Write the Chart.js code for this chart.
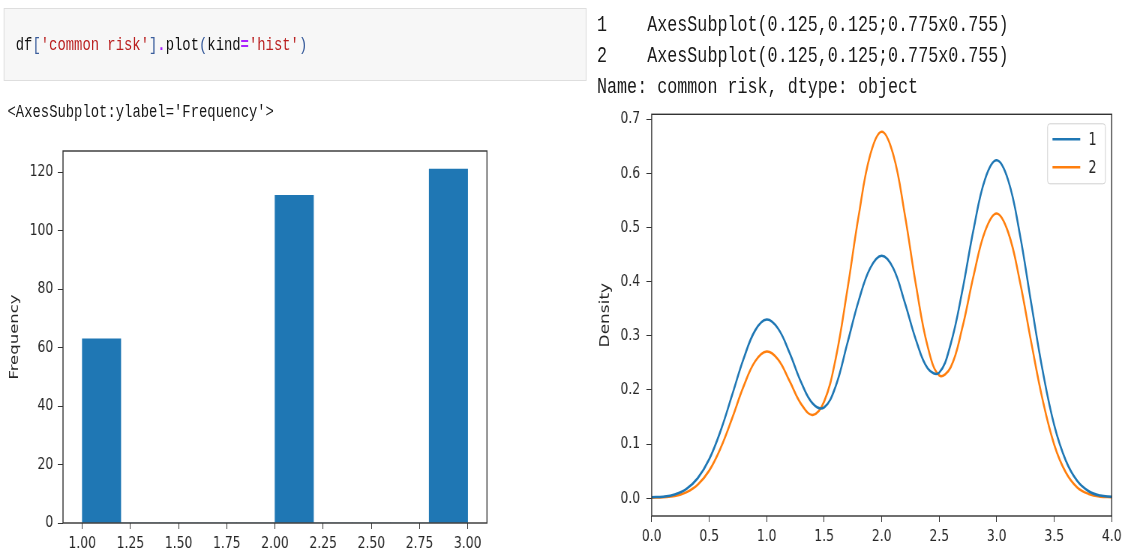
<!DOCTYPE html>
<html>
<head>
<meta charset="utf-8">
<script src="https://cdn.jsdelivr.net/npm/chart.js@4.4.1/dist/chart.umd.min.js"></script>
<style>
  html, body { margin: 0; padding: 0; background: #fff; overflow: hidden; }
  /* the screenshot is squeezed sideways, so lay out wide and squeeze */
  #page {
    position: absolute; left: 0; top: 0;
    width: 1508px; height: 550px;
    transform: scaleX(0.75); transform-origin: 0 0;
  }
  .mono { font-family: 'Liberation Mono', monospace; white-space: pre; position: absolute; line-height: 1; }
  #cell {
    position: absolute; left: 5px; top: 8px; width: 777px; height: 73px;
    background: #f7f7f7; border: 1px solid #dedede; box-sizing: border-box;
  }
  #code { left: 15px; top: 28px; font-size: 18.5px; color: #111; }
  .str { color: #ba2121; }
  .br { color: #3a5d9c; }
  .op { color: #aa22ff; font-weight: bold; }
  #out1 { left: 10px; top: 104px; font-size: 18.5px; color: #1a1a1a; }
  #out2 { left: 796px; top: 10px; font-size: 22.3px; color: #1a1a1a; line-height: 31px; }
  canvas { position: absolute; }
</style>
</head>
<body>
<div id="page">
  <div id="cell"><div id="code" class="mono">df<span class="br">[</span><span class="str">'common risk'</span><span class="br">]</span><span class="op">.</span>plot<span class="br">(</span>kind<span class="op">=</span><span class="str">'hist'</span><span class="br">)</span></div></div>
  <div id="out1" class="mono">&lt;AxesSubplot:ylabel='Frequency'&gt;</div>
  <div id="out2" class="mono">1    AxesSubplot(0.125,0.125;0.775x0.755)
2    AxesSubplot(0.125,0.125;0.775x0.755)
Name: common risk, dtype: object</div>
  <canvas id="histChart" width="787" height="420" style="left:0px; top:130px;"></canvas>
  <canvas id="densityChart" width="721" height="455" style="left:787px; top:95px;"></canvas>
</div>
<script>
  // histogram of 'common risk' (10 bins)
  var histEdges = [1.0, 1.2, 1.4, 1.6, 1.8, 2.0, 2.2, 2.4, 2.6, 2.8, 3.0];
  var histCounts = [63, 0, 0, 0, 0, 112, 0, 0, 0, 121];
  var histXTicks = [1.0, 1.25, 1.5, 1.75, 2.0, 2.25, 2.5, 2.75, 3.0];
  var histYTicks = [0, 20, 40, 60, 80, 100, 120];

  // kde of the two groups
  var seriesLabels = ['1', '2'];
  var densityX = [
    0.0, 0.1, 0.2, 0.3, 0.4, 0.5, 0.6, 0.7, 0.8, 0.9,
    1.0, 1.1, 1.2, 1.3, 1.4, 1.5, 1.6, 1.7, 1.8, 1.9,
    2.0, 2.1, 2.2, 2.3, 2.4, 2.5, 2.6, 2.7, 2.8, 2.9,
    3.0, 3.1, 3.2, 3.3, 3.4, 3.5, 3.6, 3.7, 3.8, 3.9, 4.0
  ];
  var density1 = [
    0.002, 0.003, 0.007, 0.017, 0.037, 0.072, 0.125, 0.191, 0.258, 0.310,
    0.330, 0.313, 0.268, 0.214, 0.175, 0.168, 0.207, 0.285, 0.365, 0.425,
    0.448, 0.425, 0.362, 0.291, 0.240, 0.232, 0.285, 0.382, 0.498, 0.590,
    0.624, 0.587, 0.489, 0.360, 0.235, 0.135, 0.070, 0.032, 0.013, 0.005, 0.003
  ];
  var density2 = [
    0.001, 0.002, 0.004, 0.011, 0.025, 0.051, 0.093, 0.148, 0.207, 0.253,
    0.271, 0.256, 0.216, 0.174, 0.154, 0.179, 0.258, 0.383, 0.522, 0.634,
    0.677, 0.635, 0.525, 0.391, 0.280, 0.227, 0.242, 0.314, 0.412, 0.494,
    0.526, 0.491, 0.402, 0.288, 0.181, 0.099, 0.048, 0.020, 0.008, 0.003, 0.002
  ];
  var densityXTicks = [0, 0.5, 1.0, 1.5, 2.0, 2.5, 3.0, 3.5, 4.0];
  var densityYTicks = [0, 0.1, 0.2, 0.3, 0.4, 0.5, 0.6, 0.7];

  var mplBlue = '#1f77b4';
  var mplOrange = '#ff7f0e';
  var inkColor = '#262626';
  var tickFont = { family: 'DejaVu Sans', size: 16.5 };

  // matplotlib draws a box round the axes
  var framePlugin = {
    id: 'frame',
    afterDatasetsDraw: function (chart) {
      var a = chart.chartArea, ctx = chart.ctx;
      ctx.save();
      ctx.strokeStyle = '#333';
      ctx.lineWidth = 1.4;
      ctx.strokeRect(a.left, a.top, a.right - a.left, a.bottom - a.top);
      ctx.restore();
    }
  };

  // legend box in the upper right corner of the plot
  var cornerLegend = {
    id: 'cornerLegend',
    afterDraw: function (chart) {
      var a = chart.chartArea, ctx = chart.ctx;
      var w = 77, h = 60;
      var left = a.right - 9 - w, top = a.top + 9;
      ctx.save();
      ctx.fillStyle = 'rgba(255,255,255,0.85)';
      ctx.strokeStyle = '#d0d0d0';
      ctx.lineWidth = 1;
      ctx.beginPath();
      ctx.roundRect(left + 0.5, top + 0.5, w, h, 3);
      ctx.fill();
      ctx.stroke();
      ctx.font = '17px "DejaVu Sans"';
      ctx.textBaseline = 'middle';
      chart.data.datasets.forEach(function (ds, i) {
        var y = top + 16 + i * 28;
        ctx.strokeStyle = ds.borderColor;
        ctx.lineWidth = 2.5;
        ctx.beginPath();
        ctx.moveTo(left + 7, y);
        ctx.lineTo(left + 44, y);
        ctx.stroke();
        ctx.fillStyle = inkColor;
        ctx.fillText(ds.label, left + 55, y + 1);
      });
      ctx.restore();
    }
  };

  function fixedTicks(values) {
    return function (scale) {
      scale.ticks = values.map(function (v) { return { value: v }; });
    };
  }

  var histPoints = histCounts.map(function (c, i) {
    return { x: (histEdges[i] + histEdges[i + 1]) / 2, y: c };
  });

  new Chart(document.getElementById('histChart'), {
    type: 'bar',
    data: {
      datasets: [{
        label: 'common risk',
        data: histPoints,
        backgroundColor: mplBlue,
        borderWidth: 0,
        barPercentage: 1,
        categoryPercentage: 1
      }]
    },
    options: {
      responsive: false,
      animation: false,
      layout: { padding: { left: 0, top: 21, right: 137.7, bottom: 0 } },
      plugins: { legend: { display: false }, tooltip: { enabled: false } },
      scales: {
        x: {
          type: 'linear',
          offset: false,
          min: 0.9,
          max: 3.1,
          afterBuildTicks: fixedTicks(histXTicks),
          afterFit: function (s) { s.height = 27; },
          border: { display: false },
          grid: { offset: false, drawOnChartArea: false, tickLength: 6, color: '#333' },
          ticks: {
            autoSkip: false, maxRotation: 0, padding: 5, color: inkColor, font: tickFont,
            callback: function (v) { return Number(v).toFixed(2); }
          }
        },
        y: {
          min: 0,
          max: 127.2,
          afterBuildTicks: fixedTicks(histYTicks),
          afterFit: function (s) { s.width = 84; },
          border: { display: false },
          grid: { drawOnChartArea: false, tickLength: 7, color: '#333' },
          ticks: { padding: 6, color: inkColor, font: tickFont },
          title: {
            display: true, text: 'Frequency', color: inkColor,
            font: { family: 'DejaVu Sans', size: 16.5 }, padding: { top: 10, bottom: 0 }
          }
        }
      }
    },
    plugins: [framePlugin]
  });

  function toPoints(values) {
    return values.map(function (v, i) { return { x: densityX[i], y: v }; });
  }

  new Chart(document.getElementById('densityChart'), {
    type: 'line',
    data: {
      datasets: [
        {
          label: seriesLabels[0],
          data: toPoints(density1),
          borderColor: mplBlue,
          borderWidth: 2.5,
          pointRadius: 0,
          fill: false,
          tension: 0.4
        },
        {
          label: seriesLabels[1],
          data: toPoints(density2),
          borderColor: mplOrange,
          borderWidth: 2.5,
          pointRadius: 0,
          fill: false,
          tension: 0.4
        }
      ]
    },
    options: {
      responsive: false,
      animation: false,
      layout: { padding: { left: 0, top: 19.3, right: 25.7, bottom: 0 } },
      plugins: { legend: { display: false }, tooltip: { enabled: false } },
      scales: {
        x: {
          type: 'linear',
          min: 0,
          max: 4,
          afterBuildTicks: fixedTicks(densityXTicks),
          afterFit: function (s) { s.height = 34; },
          border: { display: false },
          grid: { drawOnChartArea: false, tickLength: 6, color: '#333' },
          ticks: {
            autoSkip: false, maxRotation: 0, padding: 5, color: inkColor, font: tickFont,
            callback: function (v) { return Number(v).toFixed(1); }
          }
        },
        y: {
          min: -0.0327,
          max: 0.709,
          afterBuildTicks: fixedTicks(densityYTicks),
          afterFit: function (s) { s.width = 81.9; },
          border: { display: false },
          grid: { drawOnChartArea: false, tickLength: 7, color: '#333' },
          ticks: {
            padding: 8.5, color: inkColor, font: tickFont,
            callback: function (v) { return Number(v).toFixed(1); }
          },
          title: {
            display: true, text: 'Density', color: inkColor,
            font: { family: 'DejaVu Sans', size: 17 }, padding: { top: 10.8, bottom: 0 }
          }
        }
      }
    },
    plugins: [framePlugin, cornerLegend]
  });
</script>
</body>
</html>
